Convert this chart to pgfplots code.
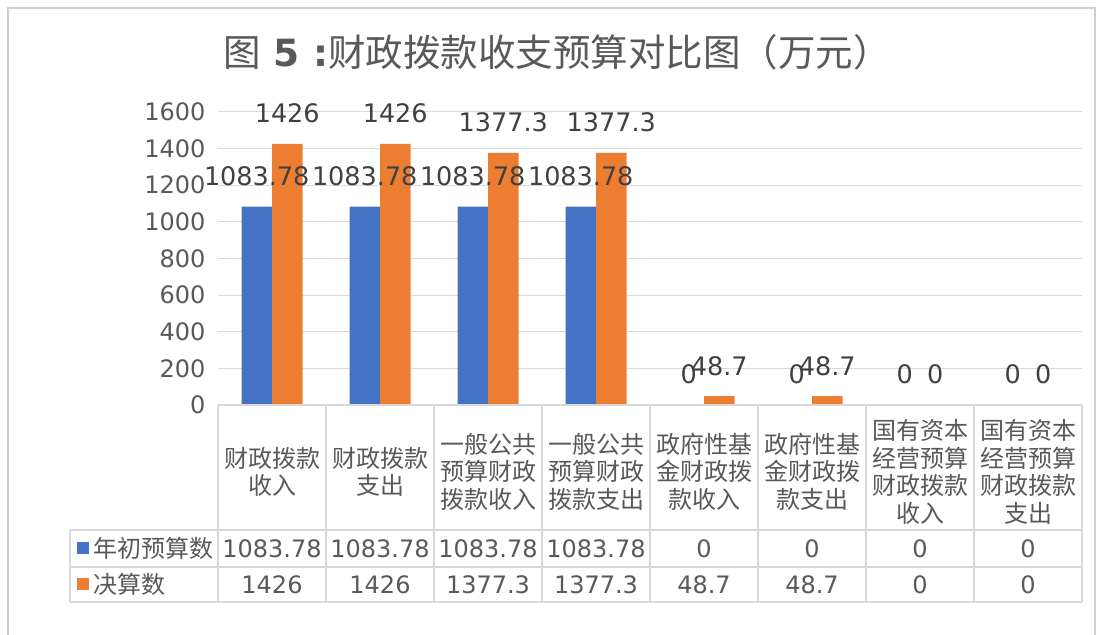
\documentclass[border=0pt]{standalone}
\usepackage{pgfplots}
\pgfplotsset{compat=1.18}
\usepackage{fontspec}
\setmainfont{DejaVu Sans}
\newfontfamily\cjk{Noto Sans CJK SC}
\definecolor{cblue}{HTML}{4472C4}
\definecolor{corange}{HTML}{ED7D31}
\definecolor{txt}{HTML}{595959}
\definecolor{lbl}{HTML}{404040}
\definecolor{gridc}{HTML}{D9D9D9}
\definecolor{framec}{HTML}{D0D0D0}
\newcommand{\numfont}{\fontsize{24bp}{28bp}\selectfont}
\newcommand{\lblfont}{\fontsize{25.5bp}{28bp}\selectfont}
\newcommand{\cjkfont}{\fontsize{24bp}{27.5bp}\selectfont\cjk}
\begin{document}
\begin{tikzpicture}[x=1bp,y=1bp]
\useasboundingbox (0,0) rectangle (1100,635);
\fill[white] (0,0) rectangle (1100,635);
\draw[framec, line width=1.5bp] (8,-5) -- (8,627) -- (1095,627) -- (1095,-5);
\node[text=txt, font=\fontsize{37.5bp}{40bp}\selectfont] at (557,583) {{\cjk 图}\textbf{ 5 :}{\cjk 财政拨款收支预算对比图（万元）}};
\begin{axis}[
  at={(218bp,230bp)}, anchor=south west,
  scale only axis, width=864bp, height=293bp,
  xmin=-0.5, xmax=7.5, ymin=0, ymax=1600,
  ytick={0,200,...,1600},
  ymajorgrids, grid style={gridc, line width=1bp},
  axis line style={draw=none},
  major tick style={draw=none},
  ybar=0pt, bar width=30.5bp,
  clip=false,
  xtick={0,...,7},
  xticklabels={{财政拨款\\收入},{财政拨款\\支出},{一般公共\\预算财政\\拨款收入},{一般公共\\预算财政\\拨款支出},{政府性基\\金财政拨\\款收入},{政府性基\\金财政拨\\款支出},{国有资本\\经营预算\\财政拨款\\收入},{国有资本\\经营预算\\财政拨款\\支出}},
  xticklabel style={font=\cjkfont, text=txt, align=center, anchor=center, yshift=-62.5bp, inner sep=0pt},
  yticklabel style={font=\numfont, text=txt, xshift=-9bp},
  /pgf/number format/assume math mode=true,
  /pgf/number format/1000 sep={},
  point meta=explicit symbolic,
  nodes near coords,
  every node near coord/.append style={font=\lblfont, text=lbl, anchor=base, inner sep=0pt, yshift=21bp},
]
\addplot[fill=cblue, draw=none] coordinates {(0,1083.78) [1083.78] (1,1083.78) [1083.78] (2,1083.78) [1083.78] (3,1083.78) [1083.78] (4,0) [0] (5,0) [0] (6,0) [0] (7,0) [0]};
\addplot[fill=corange, draw=none] coordinates {(0,1426) [1426] (1,1426) [1426] (2,1377.3) [1377.3] (3,1377.3) [1377.3] (4,48.7) [48.7] (5,48.7) [48.7] (6,0) [0] (7,0) [0]};
\end{axis}
% data table
\begin{scope}[gridc, line width=1.5bp]
\draw (218,230) -- (1082,230);
\draw (70,105) -- (1082,105);
\draw (70,68) -- (1082,68);
\draw (70,33) -- (1082,33);
\draw (70,105) -- (70,33);
\foreach \k in {0,...,8} { \draw ({218+108*\k},230) -- ({218+108*\k},33); }
\end{scope}
\fill[cblue] (77,80.5) rectangle (89,92.5);
\fill[corange] (77,44.5) rectangle (89,56.5);
\node[anchor=west, inner sep=0pt, font=\cjkfont, text=txt] at (93,86.5) {年初预算数};
\node[anchor=west, inner sep=0pt, font=\cjkfont, text=txt] at (93,50.5) {决算数};
\foreach \v [count=\i from 0] in {1083.78,1083.78,1083.78,1083.78,0,0,0,0} {
  \node[font=\numfont, text=txt, inner sep=0pt] at ({272+108*\i},86.5) {\v};
}
\foreach \v [count=\i from 0] in {1426,1426,1377.3,1377.3,48.7,48.7,0,0} {
  \node[font=\numfont, text=txt, inner sep=0pt] at ({272+108*\i},50.5) {\v};
}
\end{tikzpicture}
\end{document}
